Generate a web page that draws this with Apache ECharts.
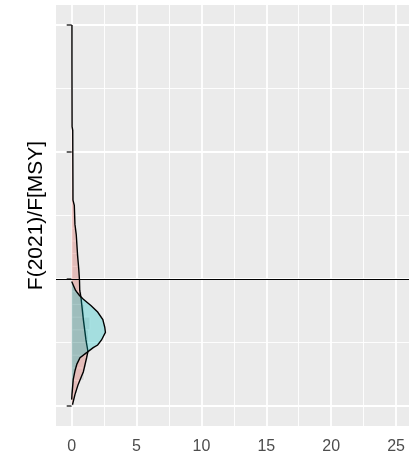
<!DOCTYPE html>
<html><head><meta charset="utf-8">
<script src="https://cdn.jsdelivr.net/npm/echarts@6/dist/echarts.min.js"></script>
<style>html,body{margin:0;padding:0;background:#fff}#c{width:419px;height:457px}</style>
</head><body><div id="c"></div>
<script>
// ---- data ----
const xTicks = [0, 5, 10, 15, 20, 25];
const xMinorTicks = [2.5, 7.5, 12.5, 17.5, 22.5];
const yTicks = [0, 1, 2, 3];
const yMinorTicks = [0.5, 1.5, 2.5];
const refLine = 1;
const yTitle = 'F(2021)/F[MSY]';

// density group 1 (pink): ratio value and density
const pinkY = [3.00, 2.72, 2.20, 2.17, 1.62, 1.58, 1.43, 1.35, 1.19, 1.07, 0.99, 0.91, 0.85, 0.68, 0.52, 0.43, 0.38, 0.27, 0.17, 0.09, 0.01];
const pinkD = [0.02, 0.02, 0.03, 0.08, 0.10, 0.20, 0.25, 0.35, 0.45, 0.55, 0.60, 0.62, 0.72, 0.90, 1.10, 1.25, 1.15, 0.90, 0.50, 0.25, 0.06];
// density group 2 (cyan)
const cyanY = [0.98, 0.91, 0.87, 0.84, 0.79, 0.74, 0.68, 0.62, 0.58, 0.52, 0.48, 0.46, 0.43, 0.38, 0.33, 0.28, 0.21, 0.09, 0.05];
const cyanD = [0.00, 0.30, 0.60, 0.90, 1.50, 2.00, 2.40, 2.55, 2.60, 2.30, 2.00, 1.66, 1.28, 0.64, 0.40, 0.26, 0.12, 0.02, 0.00];
// faint histogram
const histStart = [0.0, 0.1, 0.2, 0.3, 0.4, 0.5, 0.6, 0.7, 0.8, 0.9, 1.0, 1.1, 1.2, 1.3, 1.4, 1.5, 1.6];
const histCount = [0.15, 0.45, 0.95, 1.10, 1.15, 1.30, 1.40, 1.00, 0.80, 0.55, 0.55, 0.45, 0.35, 0.30, 0.20, 0.15, 0.10];
const binWidth = 0.1;

const FONT = 'Liberation Sans';

function densityRender(ys, ds, color) {
  return function (params, api) {
    if (params.dataIndex !== 0) return null;
    const curve = ys.map((y, i) => api.coord([ds[i], y]));
    const poly = [api.coord([0, ys[0]])].concat(curve, [api.coord([0, ys[ys.length - 1]])]);
    return {
      type: 'group',
      children: [
        { type: 'polygon', shape: { points: poly }, style: { fill: color, opacity: 0.3, stroke: null } },
        { type: 'polyline', shape: { points: curve }, style: { fill: null, stroke: '#000', lineWidth: 1.4 } }
      ]
    };
  };
}

const chart = echarts.init(document.getElementById('c'), null, { renderer: 'canvas' });
chart.setOption({
  animation: false,
  backgroundColor: '#ffffff',
  grid: { left: 56, right: 10, top: 5, bottom: 31, show: true, backgroundColor: '#EBEBEB', borderWidth: 0 },
  xAxis: [
    { type: 'value', min: -1.21, max: 26.0, position: 'bottom',
      axisLine: { show: false },
      axisTick: { show: false, customValues: xTicks },
      axisLabel: { customValues: xTicks, color: '#4D4D4D', fontSize: 16, fontFamily: FONT, margin: 13 },
      splitLine: { show: true, lineStyle: { color: '#ffffff', width: 1.8 } } },
    { type: 'value', min: -1.21, max: 26.0, position: 'top',
      axisLine: { show: false },
      axisTick: { show: false, customValues: xMinorTicks },
      axisLabel: { show: false, customValues: xMinorTicks },
      splitLine: { show: true, lineStyle: { color: '#ffffff', width: 0.9 } } }
  ],
  yAxis: [
    { type: 'value', min: -0.1575, max: 3.1575, position: 'left',
      name: yTitle, nameLocation: 'middle', nameGap: 9,
      nameTextStyle: { color: '#000', fontSize: 21, fontFamily: FONT },
      axisLine: { show: false },
      axisTick: { show: true, length: 5, customValues: yTicks, lineStyle: { color: '#333333', width: 1.5 } },
      axisLabel: { show: false, customValues: yTicks },
      splitLine: { show: true, lineStyle: { color: '#ffffff', width: 1.8 } } },
    { type: 'value', min: -0.1575, max: 3.1575, position: 'right',
      axisLine: { show: false },
      axisTick: { show: false, customValues: yMinorTicks },
      axisLabel: { show: false, customValues: yMinorTicks },
      splitLine: { show: true, lineStyle: { color: '#ffffff', width: 0.9 } } }
  ],
  series: [
    { type: 'custom', name: 'hist', xAxisIndex: 0, yAxisIndex: 0, silent: true,
      data: histStart.map((s, i) => [s, s + binWidth, histCount[i]]),
      renderItem: function (params, api) {
        const p0 = api.coord([0, api.value(0)]);
        const p1 = api.coord([api.value(2), api.value(1)]);
        return { type: 'rect', shape: { x: p0[0], y: p1[1], width: p1[0] - p0[0], height: p0[1] - p1[1] },
          style: { fill: 'rgba(175,175,175,0.28)', stroke: 'rgba(255,255,255,0.45)', lineWidth: 0.9 } };
      } },
    { type: 'custom', name: 'pink', xAxisIndex: 0, yAxisIndex: 0, silent: true,
      data: pinkY.map((y, i) => [pinkD[i], y]),
      renderItem: densityRender(pinkY, pinkD, '#F8766D') },
    { type: 'custom', name: 'cyan', xAxisIndex: 0, yAxisIndex: 0, silent: true,
      data: cyanY.map((y, i) => [cyanD[i], y]),
      renderItem: densityRender(cyanY, cyanD, '#00BFC4'),
      markLine: { silent: true, symbol: 'none', label: { show: false },
        lineStyle: { color: '#000', width: 1.1, type: 'solid' },
        data: [{ yAxis: refLine }] } }
  ]
});
</script></body></html>
